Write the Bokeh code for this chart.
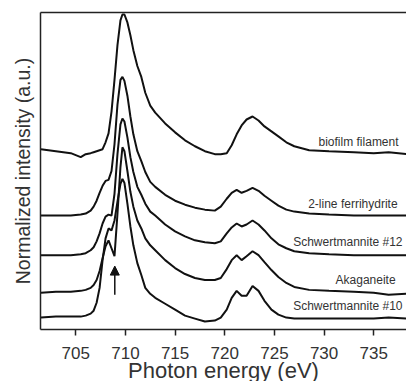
from bokeh.plotting import figure
from bokeh.models import Range1d, LinearAxis, FixedTicker, Arrow, NormalHead, Label
from bokeh.embed import file_html
from bokeh.resources import INLINE

# Photon energy grid (eV)
energy = [701.5, 703.0, 704.5, 705.5, 706.0, 706.5, 706.8, 707.1, 707.4, 707.7,
          708.0, 708.3, 708.6, 708.9, 709.2, 709.5, 709.7, 709.9, 710.2, 710.5,
          710.8, 711.2, 711.6, 712.0, 712.5, 713.0, 714.0, 715.0, 716.0, 717.0,
          718.0, 719.0, 719.6, 720.2, 720.7, 721.2, 721.7, 722.2, 722.8, 723.4,
          724.0, 724.7, 725.4, 726.2, 727.0, 728.5, 730.5, 733.0, 735.0, 736.5, 738.3]

# Normalized intensities (stacked, arbitrary units)
biofilm = [182, 180, 178, 174, 177, 178, 179, 180, 181, 182,
           189, 198, 220, 252, 287, 312, 318, 318, 310, 297,
           282, 266, 255, 239, 226, 219, 208, 199, 191, 185,
           180, 177, 177, 178, 186, 197, 206, 212, 215, 211,
           205, 200, 195, 189, 185, 181, 180, 179, 178, 179, 177]
ferrihydrite = [115, 115, 115, 116, 117, 120, 124, 130, 138, 145,
                150, 151, 160, 187, 227, 252, 255, 251, 236, 215,
                197, 180, 170, 159, 149, 144, 136, 130, 126, 123,
                121, 120, 124, 132, 138, 141, 138, 140, 143, 140,
                135, 130, 125, 121, 119, 117, 116, 115, 115, 115, 115]
schwert12 = [75, 75, 75, 76, 77, 80, 83, 89, 97, 107,
             114, 116, 115, 137, 177, 207, 213, 210, 194, 174,
             159, 144, 136, 127, 119, 115, 106, 99, 94, 90,
             88, 87, 89, 97, 103, 107, 104, 106, 110, 106,
             100, 92, 86, 82, 79, 77, 76, 75, 75, 75, 75]
akaganeite = [37, 38, 38, 39, 40, 42, 45, 50, 59, 72,
              84, 90, 82, 74, 117, 164, 184, 180, 160, 139,
              124, 110, 102, 92, 85, 80, 70, 62, 56, 52,
              50, 50, 52, 61, 70, 75, 70, 74, 79, 75,
              68, 60, 53, 47, 43, 40, 39, 38, 37, 35, 36]
schwert10 = [12, 13, 13, 13, 14, 16, 19, 27, 42, 70,
             92, 102, 100, 110, 129, 147, 152, 148, 127, 104,
             85, 67, 55, 42, 36, 32, 26, 20, 14, 11,
             8, 9, 12, 20, 32, 39, 34, 34, 44, 39,
             29, 20, 15, 12, 11, 11, 11, 11, 11, 12, 11]

series = [biofilm, ferrihydrite, schwert12, akaganeite, schwert10]
labels = ["biofilm filament", "2-line ferrihydrite", "Schwertmannite #12",
          "Akaganeite", "Schwertmannite #10"]
label_y = [189, 127, 88, 50, 24]
label_x = [737.5, 737.4, 737.9, 737.2, 737.9]

x_ticks = [705, 710, 715, 720, 725, 730, 735]
arrow_energy = 708.93
arrow_from, arrow_to = 35, 64

FONT = "Liberation Sans"

p = figure(width=406, height=385, x_range=Range1d(701.45, 738.3), y_range=Range1d(0, 320),
           output_backend="svg", toolbar_location=None,
           min_border_left=40, min_border_right=0, min_border_top=12, min_border_bottom=53)
p.outline_line_color = None
p.grid.visible = False
p.background_fill_color = "white"

for s in series:
    p.line(energy, s, line_color="#111111", line_width=2)

for txt, lx, ly in zip(labels, label_x, label_y):
    p.add_layout(Label(x=lx, y=ly, text=txt, text_align="right", text_baseline="middle",
                       text_font=FONT, text_font_size="12px", text_color="#333333"))

p.add_layout(Arrow(end=NormalHead(size=9, fill_color="#111111", line_color="#111111"),
                   x_start=arrow_energy, y_start=arrow_from, x_end=arrow_energy, y_end=arrow_to,
                   line_width=1.5, line_color="#111111"))

xa = p.xaxis[0]
xa.ticker = FixedTicker(ticks=x_ticks)
xa.axis_label = "Photon energy (eV)"
xa.axis_label_text_font = FONT
xa.axis_label_text_font_size = "22px"
xa.axis_label_text_font_style = "normal"
xa.axis_label_text_color = "#333333"
xa.axis_label_standoff = -4
xa.major_label_text_font = FONT
xa.major_label_text_font_size = "17px"
xa.major_label_text_color = "#333333"
xa.major_label_standoff = 11
xa.major_tick_out = 6
xa.major_tick_in = 0
xa.minor_tick_line_color = None
xa.axis_line_width = 1.5
xa.major_tick_line_width = 1.5
xa.axis_line_color = "#222222"
xa.major_tick_line_color = "#222222"

ya = p.yaxis[0]
ya.ticker = FixedTicker(ticks=[])
ya.axis_label = "Normalized intensity (a.u.)"
ya.axis_label_text_font = FONT
ya.axis_label_text_font_size = "19.5px"
ya.axis_label_text_font_style = "normal"
ya.axis_label_text_color = "#333333"
ya.axis_label_standoff = 7
ya.major_tick_line_color = None
ya.minor_tick_line_color = None
ya.axis_line_width = 1.5
ya.axis_line_color = "#222222"

top = LinearAxis(ticker=FixedTicker(ticks=[]), major_tick_line_color=None,
                 minor_tick_line_color=None, axis_line_width=1.5, axis_line_color="#222222",
                 major_label_text_font_size="0px")
p.add_layout(top, "above")

open("out.html", "w").write(file_html(p, INLINE))
